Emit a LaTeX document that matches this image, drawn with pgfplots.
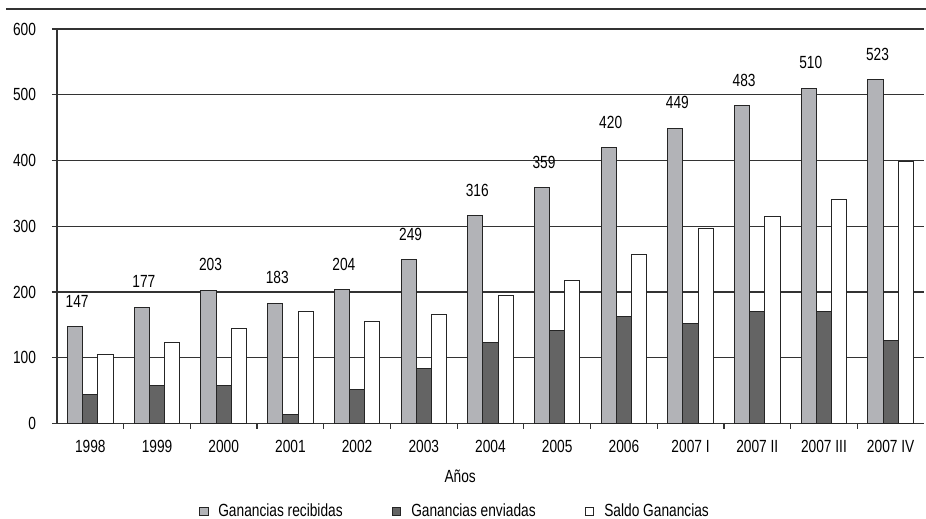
\documentclass[border=0pt]{standalone}
\usepackage{fontspec}
\setmainfont{Liberation Sans}[FakeStretch=0.78]
\usepackage{pgfplots}
\pgfplotsset{compat=1.18}
\definecolor{barlight}{HTML}{B2B3B7}
\definecolor{bardark}{HTML}{646464}
\definecolor{edge}{HTML}{252525}
\definecolor{gridc}{HTML}{333333}
\newcommand{\chfont}{\fontsize{8.8}{10}\selectfont}
\begin{document}
\begin{tikzpicture}
\path[use as bounding box] (-28.5pt,-47.75pt) rectangle (434.5pt,211.75pt);
\begin{axis}[
  at={(0pt,0pt)}, anchor=south west,
  scale only axis, width=433.5pt, height=197.25pt,
  xmin=-0.5, xmax=12.5, ymin=0, ymax=600,
  ybar=0pt, bar width=7.6pt,
  axis x line*=bottom, axis y line*=left,
  axis line style={draw=gridc, line width=0.6pt},
  ytick={0,100,...,600},
  ymajorgrids, grid style={draw=gridc, line width=0.55pt},
  tick align=outside,
  major tick length=2.5pt,
  tick style={draw=gridc, line width=0.6pt},
  xtick={0.5,1.5,...,11.5}, xticklabels={},
  extra x ticks={0,...,12},
  extra x tick labels={1998,1999,2000,2001,2002,2003,2004,2005,2006,2007 I,2007 II,2007 III,2007 IV},
  extra x tick style={major tick length=0pt, tick style={draw=none}, grid=none,
     xticklabel style={yshift=-5pt}},
  xticklabel style={font=\chfont},
  yticklabel style={font=\chfont, xshift=-4.5pt},
  /pgf/number format/assume math mode=true,
  xlabel={Años},
  xlabel style={font=\chfont, at={(axis description cs:0.465,-0.135)}, anchor=center},
  legend columns=3,
  legend style={at={(axis description cs:0.163,-0.223)}, anchor=west, draw=none, fill=none,
     font=\chfont, inner sep=0pt,
     /tikz/every odd column/.append style={column sep=3pt},
     /tikz/every even column/.append style={column sep=22.5pt}},
  legend image code/.code={\draw[#1, draw=edge, line width=0.4pt] (0pt,-2.2pt) rectangle (4.4pt,2.2pt);},
]
\addplot[fill=barlight, draw=edge, line width=0.5pt,
  nodes near coords, nodes near coords style={font=\chfont, yshift=6pt, xshift=1pt, text=black}]
  coordinates {(0,147) (1,177) (2,203) (3,183) (4,204) (5,249) (6,316) (7,359) (8,420) (9,449) (10,483) (11,510) (12,523)};
\addplot[fill=bardark, draw=edge, line width=0.5pt]
  coordinates {(0,44) (1,58) (2,58) (3,14) (4,51) (5,83) (6,123) (7,142) (8,162) (9,152) (10,170) (11,170) (12,127)};
\addplot[fill=white, draw=edge, line width=0.5pt]
  coordinates {(0,105) (1,123) (2,145) (3,170) (4,155) (5,166) (6,195) (7,217) (8,257) (9,296) (10,315) (11,340) (12,399)};
\legend{Ganancias recibidas, Ganancias enviadas, Saldo Ganancias}
\end{axis}
\draw[draw=gridc, line width=1.3pt] (-25.5pt,207.25pt) -- (434.5pt,207.25pt);
\end{tikzpicture}
\end{document}
